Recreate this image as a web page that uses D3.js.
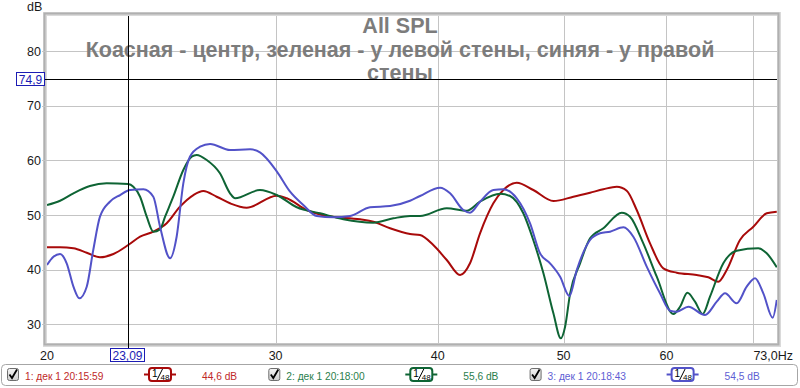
<!DOCTYPE html>
<html>
  <head>
    <meta charset="utf-8">
    <title>All SPL</title>
    <script src="https://d3js.org/d3.v7.min.js"></script>
    <style>
      body { margin: 0; background: #fff; }
      svg { display: block; font-family: "Liberation Sans", Arial, sans-serif; }
      .grid { stroke: #c4c4c4; stroke-width: 1; shape-rendering: crispEdges; }
      .tick { font-size: 12.5px; fill: #1a1a1a; }
      .title { font-weight: bold; fill: #7c7c7c; text-anchor: middle; }
      .trace { fill: none; stroke-width: 2; }
      .cursor { stroke: #000; stroke-width: 1; shape-rendering: crispEdges; }
      .cursorBox { fill: #fff; stroke: #1c1cb4; stroke-width: 1; shape-rendering: crispEdges; }
      .cursorText { font-size: 12px; fill: #1c1cb4; }
      .legend { font-size: 10.2px; }
    </style>
  </head>
  <body>
    <svg id="chart" width="800" height="388">
      <defs>
        <clipPath id="plotClip"><rect x="47" y="16" width="730" height="327"></rect></clipPath>
        <linearGradient id="boxFill" x1="0" y1="0" x2="0" y2="1">
          <stop offset="0" stop-color="#f4f4f4"></stop>
          <stop offset="1" stop-color="#cfcfcf"></stop>
        </linearGradient>
      </defs>
      <g id="frameGroup"></g>
      <g id="gridGroup"></g>
      <g id="titleGroup"></g>
      <g id="traceGroup" clip-path="url(#plotClip)"></g>
      <g id="cursorGroup"></g>
      <g id="axisGroup"></g>
      <g id="legendGroup"></g>
    </svg>
    <script>
      // traces (Hz, dB)
      redFreq = [20.00, 20.47, 20.96, 21.46, 21.97, 22.50, 23.10, 23.59, 24.15, 24.73, 25.32, 25.93, 26.39, 27.02, 27.67, 28.50, 30.06, 30.60, 31.70, 32.85, 34.85, 35.68, 36.75, 38.08, 38.76, 39.68, 40.64, 41.61, 42.35, 43.11, 44.14, 44.93, 46.01, 47.38, 49.10, 50.87, 52.40, 53.65, 54.94, 55.92, 56.92, 58.28, 59.67, 61.11, 63.31, 64.63, 65.78, 66.77, 68.36, 70.00, 71.68, 72.97];
      redDb = [44.11, 44.11, 43.93, 43.13, 42.29, 42.89, 44.53, 46.05, 46.97, 48.50, 51.54, 53.67, 54.41, 53.36, 52.16, 51.35, 53.55, 53.07, 50.93, 49.84, 49.23, 48.79, 47.59, 46.55, 46.36, 44.53, 41.79, 39.05, 41.19, 46.67, 52.16, 54.59, 55.92, 54.59, 52.58, 53.36, 54.10, 54.72, 55.19, 54.46, 50.93, 44.84, 40.27, 39.47, 39.05, 38.63, 37.82, 39.96, 45.45, 47.88, 50.33, 50.62];
      greenFreq = [20.00, 20.47, 20.96, 21.58, 22.23, 23.10, 23.31, 23.59, 23.87, 24.15, 24.44, 24.66, 25.02, 25.47, 25.85, 26.08, 26.55, 27.18, 27.67, 27.92, 29.18, 30.06, 31.15, 32.46, 33.83, 35.68, 36.97, 38.08, 38.76, 40.64, 42.10, 43.11, 44.67, 45.47, 46.55, 47.38, 48.24, 49.10, 49.75, 50.13, 50.58, 51.48, 52.40, 53.65, 55.43, 56.25, 57.59, 58.98, 60.74, 61.47, 62.27, 63.12, 63.99, 64.82, 66.37, 67.96, 70.62, 71.68, 72.97];
      greenDb = [51.85, 52.63, 53.99, 55.32, 55.81, 55.69, 55.19, 53.36, 49.71, 46.97, 47.40, 49.71, 53.36, 58.25, 60.68, 60.99, 60.07, 57.64, 53.99, 53.07, 54.59, 53.67, 51.43, 50.33, 49.23, 48.61, 49.41, 49.84, 49.84, 51.24, 50.80, 52.45, 53.90, 53.49, 50.33, 45.45, 39.36, 32.05, 27.48, 29.60, 35.70, 41.19, 45.76, 47.59, 50.44, 49.71, 44.84, 38.74, 31.92, 33.25, 35.81, 34.17, 31.92, 35.08, 41.19, 43.49, 43.93, 43.02, 40.46];
      blueFreq = [20.00, 20.23, 20.47, 20.71, 20.96, 21.18, 21.46, 21.71, 21.97, 22.36, 22.77, 23.17, 23.73, 24.15, 24.44, 24.88, 25.17, 25.47, 25.77, 26.24, 26.71, 27.67, 28.67, 29.18, 30.06, 30.78, 31.51, 32.27, 33.24, 34.24, 35.47, 36.75, 38.08, 38.76, 40.16, 40.88, 41.85, 42.35, 43.11, 44.14, 44.93, 46.01, 47.11, 47.95, 48.81, 49.69, 50.51, 51.18, 52.40, 53.34, 54.29, 55.59, 56.58, 57.94, 59.32, 60.39, 61.11, 62.38, 64.25, 65.60, 66.57, 67.96, 69.18, 70.21, 71.25, 72.45, 72.97];
      blueDb = [40.88, 42.39, 42.89, 41.19, 36.91, 34.79, 36.91, 43.62, 49.71, 52.45, 53.67, 54.59, 54.72, 53.36, 47.88, 42.10, 46.05, 55.81, 60.68, 62.50, 63.00, 61.90, 62.03, 61.45, 58.00, 54.28, 51.85, 49.84, 49.60, 49.84, 51.43, 51.66, 52.63, 53.49, 55.01, 53.99, 50.93, 50.44, 52.45, 54.59, 54.72, 53.07, 48.50, 43.02, 41.19, 38.74, 35.21, 39.96, 45.45, 46.67, 46.97, 47.77, 46.05, 40.57, 35.70, 32.52, 32.34, 33.25, 31.74, 34.17, 35.70, 33.88, 36.91, 38.45, 35.70, 31.24, 34.48];
      // axes and labels
      yTicks = [30, 40, 50, 60, 70, 80];
      xGridTicks = [30, 40, 50, 60, 70];
      xTickLabels = [20, 30, 40, 50, 60];
      xEndLabel = "73,0Hz";
      titleLines = ["All SPL", "Коасная - центр, зеленая - у левой стены, синяя - у правой", "стены"];
      legendNames = ["1: дек 1 20:15:59", "2: дек 1 20:18:00", "3: дек 1 20:18:43"];
      legendValues = ["44,6 dB", "55,6 dB", "54,5 dB"];
      cursorFreq = 23.09;
      cursorDb = 74.9;

      lineColors = ["#a80a0a", "#0e6434", "#5252c8"];
      textColors = ["#c02828", "#2a7e4c", "#5e5ed4"];

      svg = d3.select("#chart");
      x = d3.scaleLog().domain([20, 73]).range([47, 777]);
      y = d3.scaleLinear().domain([26.8, 86.4]).range([342, 16]);

      // plot frame with a soft inset edge
      frame = d3.select("#frameGroup");
      frame.append("rect").attr("x", 43).attr("y", 12).attr("width", 738).attr("height", 335)
        .attr("fill", "#dadada");
      frame.append("rect").attr("x", 44.5).attr("y", 13.5).attr("width", 734).attr("height", 331)
        .attr("fill", "none").attr("stroke", "#b0b0b0").attr("stroke-width", 2);
      frame.append("rect").attr("x", 47).attr("y", 16).attr("width", 730).attr("height", 327)
        .attr("fill", "#fff");

      // grid
      grid = d3.select("#gridGroup");
      grid.selectAll(".hgrid").data(yTicks).enter().append("line")
        .attr("class", "grid")
        .attr("x1", 42).attr("x2", 777)
        .attr("y1", function(d) { return Math.round(y(d)) + 0.5; })
        .attr("y2", function(d) { return Math.round(y(d)) + 0.5; });
      grid.selectAll(".vgrid").data(xGridTicks).enter().append("line")
        .attr("class", "grid")
        .attr("y1", 16).attr("y2", 343)
        .attr("x1", function(d) { return Math.round(x(d)) + 0.5; })
        .attr("x2", function(d) { return Math.round(x(d)) + 0.5; });

      // axis labels
      axis = d3.select("#axisGroup");
      axis.append("text").attr("class", "tick").attr("x", 27).attr("y", 11).text("dB");
      axis.selectAll(".ylab").data(yTicks).enter().append("text")
        .attr("class", "tick")
        .attr("text-anchor", "end")
        .attr("x", 41)
        .attr("y", function(d) { return y(d) + 4.5; })
        .text(function(d) { return d; });
      axis.selectAll(".xlab").data(xTickLabels).enter().append("text")
        .attr("class", "tick")
        .attr("text-anchor", "middle")
        .attr("x", function(d) { return x(d); })
        .attr("y", 360)
        .text(function(d) { return d; });
      axis.append("text").attr("class", "tick")
        .attr("text-anchor", "end").attr("x", 793).attr("y", 360).text(xEndLabel);

      // title
      title = d3.select("#titleGroup");
      title.selectAll("text").data(titleLines).enter().append("text")
        .attr("class", "title")
        .attr("x", 400)
        .attr("y", function(d, i) { return [33, 57, 80][i]; })
        .style("font-size", "21.5px")
        .text(function(d) { return d; });

      // traces
      line = d3.line()
        .x(function(d) { return x(d[0]); })
        .y(function(d) { return y(d[1]); })
        .curve(d3.curveMonotoneX);
      traces = [d3.zip(redFreq, redDb), d3.zip(greenFreq, greenDb), d3.zip(blueFreq, blueDb)];
      d3.select("#traceGroup").selectAll(".trace").data(traces).enter().append("path")
        .attr("class", "trace")
        .attr("stroke", function(d, i) { return lineColors[i]; })
        .attr("d", line);

      // cursor
      cursor = d3.select("#cursorGroup");
      cx = Math.round(x(cursorFreq)) + 0.5;
      cy = Math.round(y(cursorDb)) + 0.5;
      cursor.append("line").attr("class", "cursor").attr("x1", cx).attr("x2", cx).attr("y1", 16).attr("y2", 349);
      cursor.append("line").attr("class", "cursor").attr("x1", 45).attr("x2", 777).attr("y1", cy).attr("y2", cy);
      cursor.append("rect").attr("class", "cursorBox").attr("x", 16.5).attr("y", cy - 7).attr("width", 28).attr("height", 13);
      cursor.append("text").attr("class", "cursorText").attr("x", 30.5).attr("y", cy + 4)
        .attr("text-anchor", "middle").text(d3.format(".1f")(cursorDb).replace(".", ","));
      cursor.append("rect").attr("class", "cursorBox").attr("x", 110.5).attr("y", 348.5).attr("width", 34).attr("height", 13);
      cursor.append("text").attr("class", "cursorText").attr("x", 127.5).attr("y", 359.5)
        .attr("text-anchor", "middle").text(d3.format(".2f")(cursorFreq).replace(".", ","));

      // legend bar
      legend = d3.select("#legendGroup");
      legend.append("rect").attr("x", 1.5).attr("y", 364.5).attr("width", 796).attr("height", 21).attr("rx", 4)
        .attr("fill", "#fff").attr("stroke", "#a6a6a6");
      legendNames.forEach(function(name, i) {
        let gx = 7 + i * 261.3;
        let item = legend.append("g").attr("transform", "translate(" + gx + ",0)");
        item.append("rect").attr("x", 0.5).attr("y", 368.5).attr("width", 11).attr("height", 12).attr("rx", 2)
          .attr("fill", "url(#boxFill)").attr("stroke", "#6e6e6e");
        item.append("path").attr("d", "M2.5,374.5 L5,378 L10,369.5")
          .attr("fill", "none").attr("stroke", "#000").attr("stroke-width", 1.8);
        item.append("text").attr("class", "legend").attr("x", 18).attr("y", 380)
          .attr("fill", textColors[i]).text(name);
        // smoothing badge
        item.append("line").attr("x1", 137).attr("x2", 169).attr("y1", 374.5).attr("y2", 374.5)
          .attr("stroke", lineColors[i]).attr("stroke-width", 2);
        item.append("rect").attr("x", 142).attr("y", 368).attr("width", 22).attr("height", 13).attr("rx", 3)
          .attr("fill", "#fff").attr("stroke", lineColors[i]).attr("stroke-width", 2);
        item.append("text").attr("x", 145).attr("y", 377).style("font-size", "10px").attr("fill", "#000").text("1");
        item.append("path").attr("d", "M150,380 L155.5,369").attr("stroke", "#000").attr("stroke-width", 1);
        item.append("text").attr("x", 153.5).attr("y", 380).style("font-size", "8px").attr("fill", "#000").text("48");
        item.append("text").attr("class", "legend").attr("x", 195).attr("y", 380)
          .attr("fill", textColors[i]).text(legendValues[i]);
      });
    </script>
  </body>
</html>
